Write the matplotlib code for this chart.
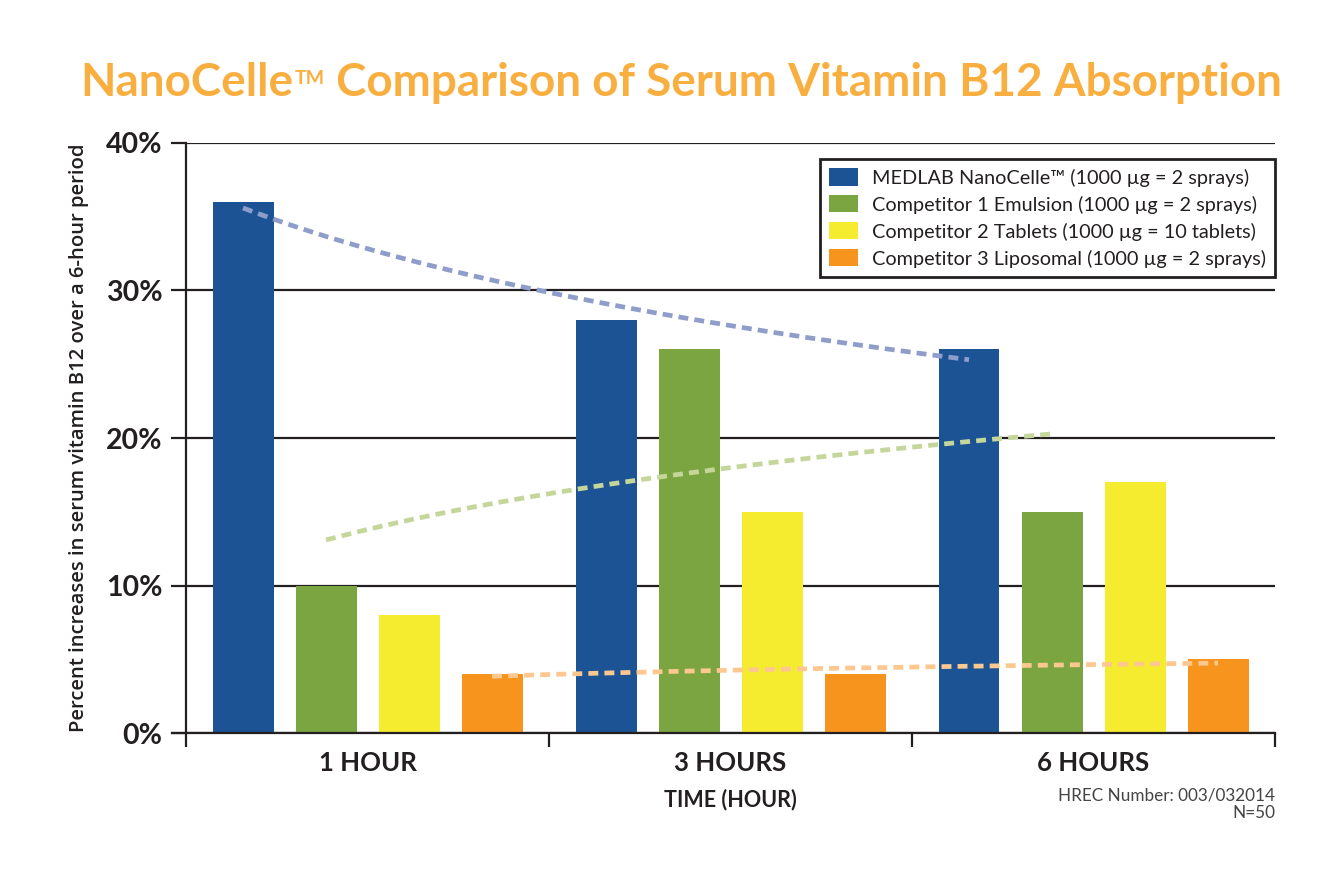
import numpy as np
import matplotlib.pyplot as plt

# data
groups = ['1 HOUR', '3 HOURS', '6 HOURS']
hours = np.array([1, 2, 3])  # category index used by the trendlines
series = [
    'MEDLAB NanoCelle™ (1000 µg = 2 sprays)',
    'Competitor 1 Emulsion (1000 µg = 2 sprays)',
    'Competitor 2 Tablets (1000 µg = 10 tablets)',
    'Competitor 3 Liposomal (1000 µg = 2 sprays)',
]
medlab = [36, 28, 26]
comp1 = [10, 26, 15]
comp2 = [8, 15, 17]
comp3 = [4, 4, 5]
yticks = [0, 10, 20, 30, 40]

bar_colors = ['#1b5394', '#7ba540', '#f5ec30', '#f7941d']
trend_colors = ['#8f9dcb', '#c5d69b', None, '#fcc88f']
ink = '#231f20'
FONT = 'Lato'

fig = plt.figure(figsize=(13.28, 8.82), dpi=100)
ax = fig.add_axes([0.1401, 0.1689, 0.82, 0.669])

step = 0.2287
width = 0.168
values = [medlab, comp1, comp2, comp3]
centers = np.arange(len(groups)) + 0.5

for i, (vals, col) in enumerate(zip(values, bar_colors)):
    xs = centers + (i - 1.5) * step
    ax.bar(xs, vals, width=width, color=col, label=series[i], zorder=2)
    # logarithmic trendline (as Excel draws it) for all but the tablets
    if trend_colors[i] is not None:
        b, a = np.polyfit(np.log(hours), vals, 1)
        k = np.linspace(1, 3, 200)
        ax.plot(xs[0] + (k - 1), a + b * np.log(k), color=trend_colors[i],
                lw=3.4, dashes=(2.1, 1.3), zorder=3)

ax.set_xlim(0, 3)
ax.set_ylim(0, 40)
ax.set_yticks(yticks)
ax.set_yticklabels([f'{v}%' for v in yticks], fontsize=20.5, family=FONT,
                   fontweight='bold', color=ink)
ax.yaxis.grid(True, color=ink, lw=1.6, zorder=0)
ax.set_axisbelow(True)
ax.tick_params(axis='y', length=11, width=1.6, color=ink, pad=6)

ax.set_xticks(centers)
ax.set_xticklabels(groups, fontsize=18.5, family=FONT, fontweight='bold', color=ink)
ax.set_xticks([0, 1, 2, 3], minor=True)
ax.tick_params(axis='x', which='major', length=0, pad=13)
ax.tick_params(axis='x', which='minor', length=10, width=1.6, color=ink)

for s in ['top', 'right']:
    ax.spines[s].set_visible(False)
for s in ['left', 'bottom']:
    ax.spines[s].set_color(ink)
    ax.spines[s].set_linewidth(1.6)
ax.spines['bottom'].set_bounds(-0.04, 3)

ax.set_xlabel('TIME (HOUR)', fontsize=15.5, family=FONT, fontweight='bold',
              color=ink, labelpad=10)
ax.set_ylabel('Percent increases in serum vitamin B12 over a 6-hour period',
              fontsize=14.6, family='Open Sans', fontweight='semibold',
              color=ink, labelpad=12)

leg = ax.legend(loc='upper right', bbox_to_anchor=(1.0, 0.972), fancybox=False,
                framealpha=1, edgecolor=ink, handlelength=1.45, handleheight=0.95,
                labelspacing=0.43, borderpad=0.45, handletextpad=0.7,
                borderaxespad=0.0, prop={'family': FONT, 'size': 14.3})
leg.get_frame().set_linewidth(2)
for t in leg.get_texts():
    t.set_color(ink)

# title with small TM pieces
title_color = '#f9ae40'
tsize = 33
t1 = fig.text(0.0602, 0.891, 'NanoCelle', fontsize=tsize, family=FONT,
              fontweight='bold', color=title_color, va='baseline')
fig.canvas.draw()
r = fig.canvas.get_renderer()
bb = t1.get_window_extent(r)
x1 = bb.x1 / fig.bbox.width
t2 = fig.text(x1 + 0.001, 0.905, 'TM', fontsize=14, family=FONT,
              fontweight='bold', color=title_color, va='baseline')
bb2 = t2.get_window_extent(r)
x2 = bb2.x1 / fig.bbox.width
fig.text(x2, 0.891, ' Comparison of Serum Vitamin B12 Absorption', fontsize=tsize,
         family=FONT, fontweight='bold', color=title_color, va='baseline')

fig.text(0.9601, 0.1066, 'HREC Number: 003/032014\nN=50', ha='right', va='top',
         fontsize=12.3, family=FONT, color='#444444', linespacing=1.05)

fig.savefig('out.png', dpi=100)
